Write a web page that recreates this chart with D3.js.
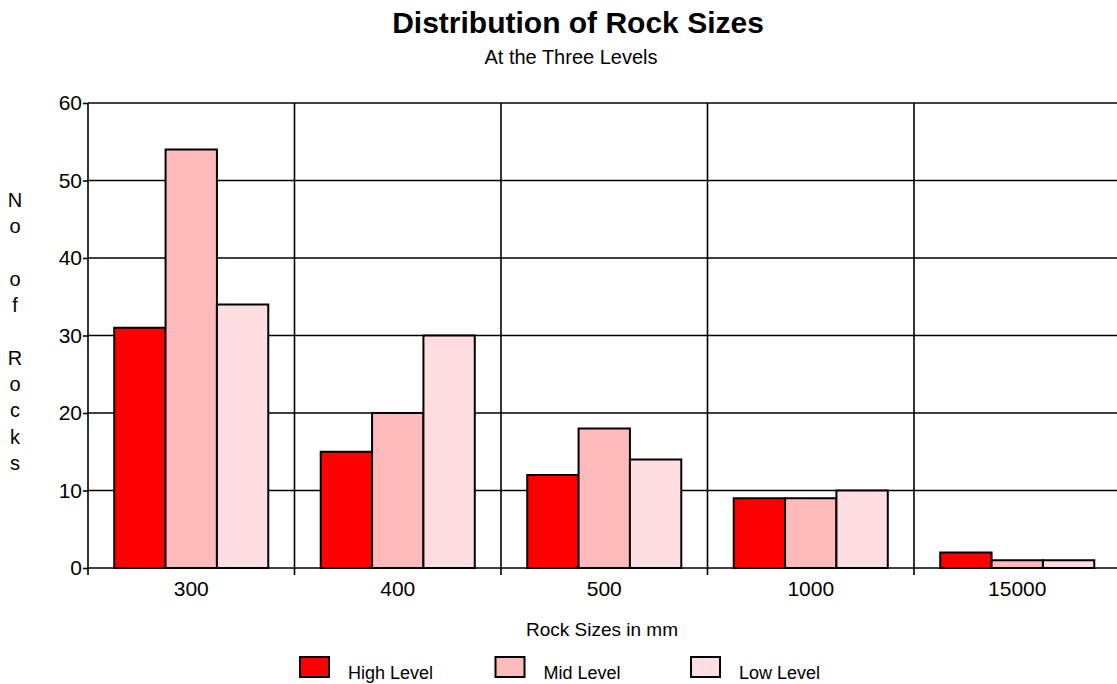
<!DOCTYPE html>
<html>
<head>
<meta charset="utf-8">
<script src="https://cdn.jsdelivr.net/npm/d3@7/dist/d3.min.js"></script>
<style>
  html, body { margin: 0; padding: 0; background: #fff; }
  svg { display: block; font-family: "Liberation Sans", Arial, sans-serif; }
</style>
</head>
<body>
<svg id="chart" width="1117" height="684"></svg>
<script>
// Rock size classes and counts at each level
const categories = ["300", "400", "500", "1000", "15000"];
const seriesNames = ["High Level", "Mid Level", "Low Level"];
const highLevel = [31, 15, 12, 9, 2];
const midLevel = [54, 20, 18, 9, 1];
const lowLevel = [34, 30, 14, 10, 1];
const yTicks = [0, 10, 20, 30, 40, 50, 60];
const seriesColors = ["#ff0000", "#ffbbbb", "#ffdde0"];

const seriesValues = [highLevel, midLevel, lowLevel];
const rows = categories.map((c, i) => ({
  category: c,
  values: seriesNames.map((s, j) => ({ series: s, value: seriesValues[j][i] }))
}));

const svg = d3.select("#chart");
const margin = { top: 103, left: 88 };
const plotW = 1032.5, plotH = 465;

const x0 = d3.scaleBand().domain(categories).range([margin.left, margin.left + plotW]).padding(0);
const x1 = d3.scaleBand().domain(seriesNames)
  .range([x0.bandwidth() * 0.127, x0.bandwidth() * 0.873]).padding(0);
const y = d3.scaleLinear().domain([0, 60]).range([margin.top + plotH, margin.top]);
const color = d3.scaleOrdinal().domain(seriesNames).range(seriesColors);

// Titles
svg.append("text").attr("x", 578).attr("y", 33).attr("text-anchor", "middle")
  .attr("font-size", 30).attr("font-weight", "bold").text("Distribution of Rock Sizes");
svg.append("text").attr("x", 571).attr("y", 64).attr("text-anchor", "middle")
  .attr("font-size", 20).text("At the Three Levels");

// Horizontal gridlines
svg.append("g").selectAll("line").data(yTicks).join("line")
  .attr("x1", margin.left).attr("x2", margin.left + plotW)
  .attr("y1", d => y(d)).attr("y2", d => y(d))
  .attr("stroke", "#000").attr("stroke-width", 1.6);

// Vertical separators between categories, extended down as ticks
const bounds = categories.slice(1).map(c => x0(c));
svg.append("g").selectAll("line").data(bounds).join("line")
  .attr("x1", d => d).attr("x2", d => d)
  .attr("y1", margin.top).attr("y2", margin.top + plotH + 7)
  .attr("stroke", "#000").attr("stroke-width", 1.6);

// Y axis
const yAxis = svg.append("g").attr("transform", `translate(${margin.left},0)`)
  .call(d3.axisLeft(y).tickValues(yTicks).tickSize(5).tickPadding(1));
yAxis.select(".domain").remove();
yAxis.selectAll(".tick line").attr("stroke", "#000").attr("stroke-width", 1.6);
yAxis.selectAll(".tick text").attr("font-size", 21).attr("font-family", "Liberation Sans, Arial, sans-serif")
  .attr("fill", "#000");
svg.append("line").attr("x1", margin.left).attr("x2", margin.left)
  .attr("y1", margin.top).attr("y2", margin.top + plotH + 7)
  .attr("stroke", "#000").attr("stroke-width", 1.6);

// Bars
const groups = svg.append("g").selectAll("g").data(rows).join("g")
  .attr("transform", d => `translate(${x0(d.category)},0)`);
groups.selectAll("rect").data(d => d.values).join("rect")
  .attr("x", d => x1(d.series))
  .attr("width", x1.bandwidth())
  .attr("y", d => y(d.value))
  .attr("height", d => y(0) - y(d.value))
  .attr("fill", d => color(d.series))
  .attr("stroke", "#000").attr("stroke-width", 2);

// X axis labels
const xAxis = svg.append("g").attr("transform", `translate(0,${margin.top + plotH})`)
  .call(d3.axisBottom(x0).tickSize(0).tickPadding(13));
xAxis.select(".domain").remove();
xAxis.selectAll(".tick text").attr("font-size", 21).attr("font-family", "Liberation Sans, Arial, sans-serif")
  .attr("fill", "#000").attr("dy", "0.71em");

svg.append("text").attr("x", 602).attr("y", 636).attr("text-anchor", "middle")
  .attr("font-size", 19).text("Rock Sizes in mm");

// Vertical y-axis title, one letter per line
const yTitle = "No of Rocks".split("");
svg.append("g").selectAll("text").data(yTitle).join("text")
  .attr("x", 15).attr("y", (d, i) => 207 + i * 26.3)
  .attr("text-anchor", "middle").attr("font-size", 20)
  .text(d => d);

// Legend
const legend = svg.append("g").selectAll("g").data(seriesNames).join("g")
  .attr("transform", (d, i) => `translate(${300 + i * 195.5},657)`);
legend.append("rect").attr("width", 29).attr("height", 20)
  .attr("fill", d => color(d)).attr("stroke", "#000").attr("stroke-width", 2);
legend.append("text").attr("x", 48).attr("y", 22).attr("font-size", 18).text(d => d);
</script>
</body>
</html>
